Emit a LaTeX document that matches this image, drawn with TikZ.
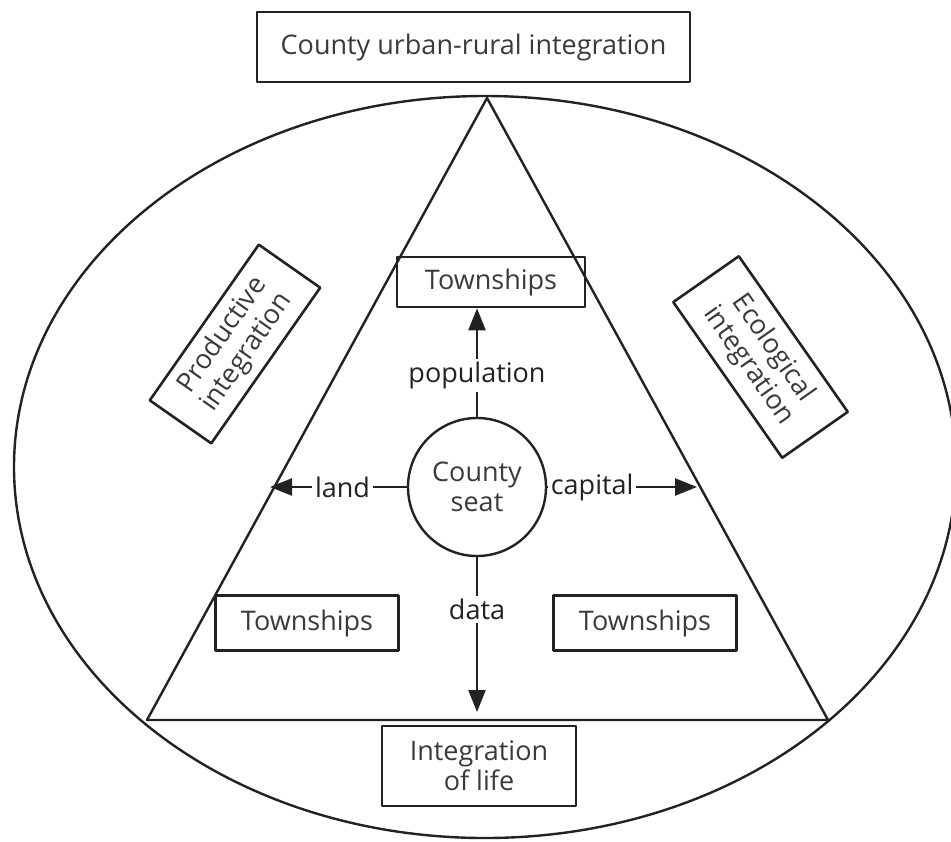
\documentclass[tikz,border=0pt]{standalone}
\usepackage{fontspec}
\setmainfont{Open Sans}
\usetikzlibrary{arrows.meta}
\definecolor{txtgray}{HTML}{3a3a3a}
\definecolor{linegray}{HTML}{222222}
\begin{document}
\begin{tikzpicture}[x=0.5pt,y=-0.5pt,line join=round,>={Triangle[length=11pt,width=8.5pt]},
	font=\fontsize{13.5pt}{15pt}\selectfont,text=txtgray,
	box/.style={draw=linegray,line width=1.3pt,inner sep=0pt,align=center},
	seatnode/.style={circle,draw=linegray,line width=1.2pt,minimum size=69pt,inner sep=0pt,align=center},
	flow/.style={fill=white,inner sep=1.5pt}]
			\useasboundingbox (0,0) rectangle (951,841);
			%\draw[red] (0,0) rectangle (951,841);
			\draw[linegray,line width=1.2pt] (485,467) ellipse[x radius=471,y radius=371];
			\coordinate (apex) at (487,98);
			\coordinate (baseL) at (147,720);
			\coordinate (baseR) at (828,720);
			\draw[linegray,line width=1.2pt] (apex)--(baseL)--(baseR)--cycle;
			\node[box,minimum width=216.5pt,minimum height=35pt] (whole) at (473.5,47) {County urban-rural integration};
			\node[box,minimum width=94pt,minimum height=25pt] (twnT) at (491,282) {Townships};
			\node[box,minimum width=91.5pt,minimum height=27.5pt] (twnL) at (307,623) {Townships};
			\node[box,minimum width=91.5pt,minimum height=27.5pt] (twnR) at (645,623) {Townships};
			\node[box,minimum width=97pt,minimum height=40pt] (life) at (479,766) {Integration\\of life};
			\node[box,minimum width=95pt,minimum height=37.5pt,rotate=55] (prod) at (235,344) {Productive\\integration};
			\node[box,minimum width=95pt,minimum height=40pt,rotate=-55] (eco) at (760.5,357) {Ecological\\integration};
			\node[seatnode] (seat) at (477,487) {County\\seat};
			\coordinate (tipL) at (270,487);
			\coordinate (tipR) at (697,487);
			\coordinate (tipD) at (479,712);
			\draw[->,linegray,line width=1.2pt]
			(seat.north) -- node[flow,pos=.38]{population} (seat.north |- twnT.south);
			\draw[->,linegray,line width=1.2pt]
			(seat.west) -- node[flow,pos=.47]{land} (tipL);
			\draw[->,linegray,line width=1.2pt]
			(seat.east) -- node[flow,pos=.30]{capital} (tipR);
			\draw[->,linegray,line width=1.2pt]
			(seat.south) -- node[flow,pos=.34]{data} (seat.south |- tipD);
\end{tikzpicture}
\end{document}
